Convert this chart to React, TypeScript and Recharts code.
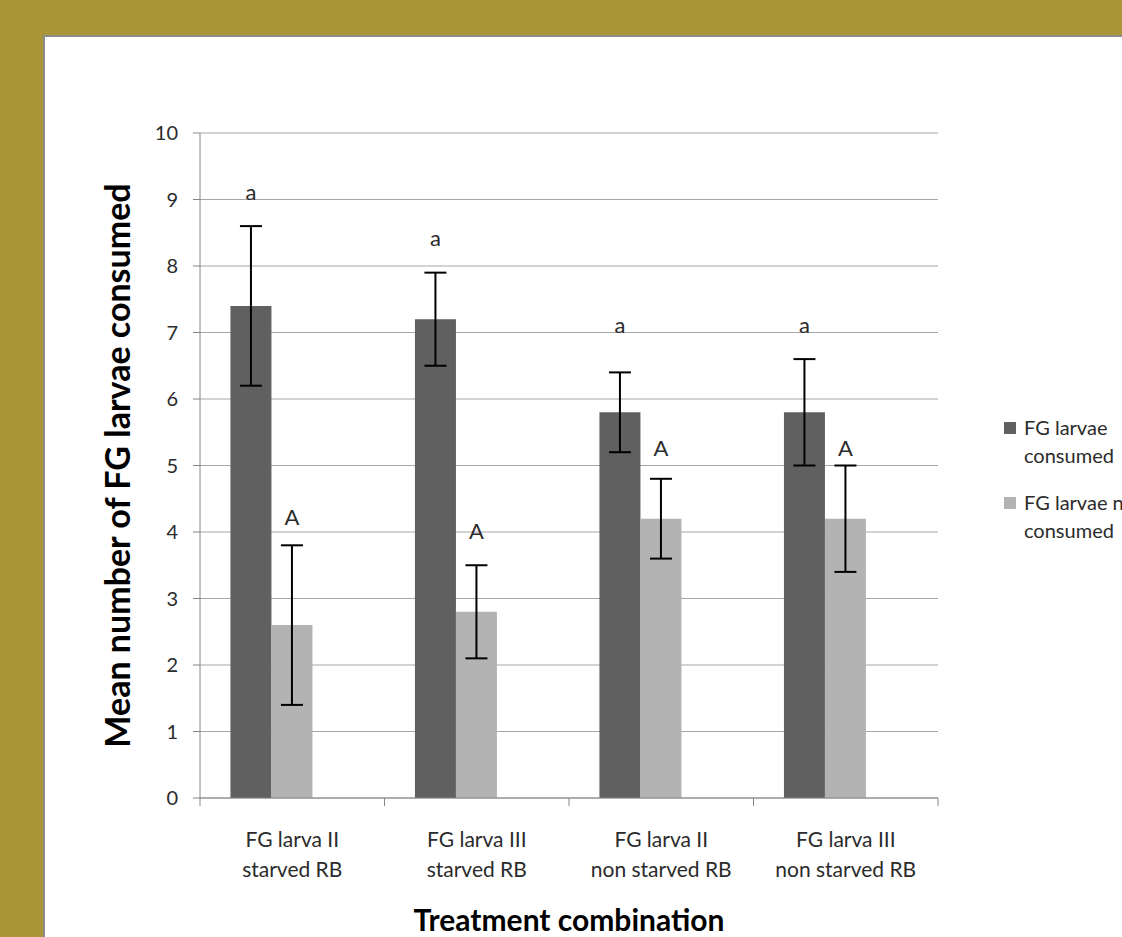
import { Bar, BarChart, CartesianGrid, ErrorBar, LabelList, Legend, XAxis, YAxis } from "recharts"

const categories = [
  "FG larva II\nstarved RB",
  "FG larva III\nstarved RB",
  "FG larva II\nnon starved RB",
  "FG larva III\nnon starved RB",
]
const consumed = [7.4, 7.2, 5.8, 5.8]
const consumedErr = [1.2, 0.7, 0.6, 0.8]
const notConsumed = [2.6, 2.8, 4.2, 4.2]
const notConsumedErr = [1.2, 0.7, 0.6, 0.8]

// significance letters and the value their baseline sits on
const consumedLetters = ["a", "a", "a", "a"]
const consumedLetterAt = [9.0, 8.3, 7.0, 7.0]
const notConsumedLetters = ["A", "A", "A", "A"]
const notConsumedLetterAt = [4.1, 3.9, 5.15, 5.15]

const yTicks = [0, 1, 2, 3, 4, 5, 6, 7, 8, 9, 10]

const FONT = "Lato, 'Open Sans', sans-serif"
const DARK = "#606060"
const LIGHT = "#b3b3b3"
const AXIS = "#868686"
const GRID = "#a6a6a6"
const TEXT = "#2b2b2b"

const data = categories.map((name, i) => ({
  name,
  consumed: consumed[i],
  consumedErr: consumedErr[i],
  notConsumed: notConsumed[i],
  notConsumedErr: notConsumedErr[i],
  blank: null,
}))

function CategoryTick(props: any) {
  const { x, y, payload, index } = props
  const [line1, line2] = String(payload.value).split("\n")
  const half = payload.offset || 738 / categories.length / 2
  return (
    <g>
      <line x1={x - half} y1={y} x2={x - half} y2={y + 8} stroke={AXIS} />
      {index === categories.length - 1 && <line x1={x + half} y1={y} x2={x + half} y2={y + 8} stroke={AXIS} />}
      <text x={x} y={y + 49} textAnchor="middle" fontFamily={FONT} fontSize={21} fill={TEXT}>
        {line1}
      </text>
      <text x={x} y={y + 79} textAnchor="middle" fontFamily={FONT} fontSize={21} fill={TEXT}>
        {line2}
      </text>
    </g>
  )
}

const letterLabel = (letters: string[], at: number[]) => (props: any) => {
  const vb = props.viewBox && props.viewBox.width !== undefined ? props.viewBox : props
  const { x, y, width, height } = vb
  const idx = props.index
  const perUnit = height / props.value
  const base = y + height
  return (
    <text
      x={x + width / 2}
      y={base - at[idx] * perUnit}
      textAnchor="middle"
      fontFamily={FONT}
      fontSize={22}
      fill={TEXT}
    >
      {letters[idx]}
    </text>
  )
}

function LegendContent(props: any) {
  const items = (props.payload || []).filter((p: any) => p.type !== "none")
  return (
    <div style={{ fontFamily: FONT, fontSize: 20, lineHeight: "28px", color: TEXT }}>
      {items.map((it: any) => (
        <div key={it.value} style={{ display: "flex", alignItems: "flex-start", marginBottom: 19 }}>
          <span style={{ width: 12, height: 12, background: it.color, marginTop: 9, marginRight: 8, flex: "none" }} />
          <span style={{ width: 132, whiteSpace: "normal" }}>{it.value}</span>
        </div>
      ))}
    </div>
  )
}

export default function App() {
  return (
    <div
      style={{
        position: "absolute",
        left: 0,
        top: 0,
        width: 1122,
        height: 937,
        overflow: "hidden",
        background: "#aa9537",
      }}
    >
      <div
        style={{
          position: "absolute",
          left: 43,
          top: 35,
          width: 1200,
          height: 1000,
          background: "#ffffff",
          border: "2px solid #8c8c8c",
        }}
      />
      <div style={{ position: "absolute", left: 0, top: 0 }}>
        <BarChart
          width={1122}
          height={937}
          data={data}
          margin={{ top: 133, right: 184, bottom: 39, left: 140 }}
          barCategoryGap="16.5%"
          barGap={0}
        >
          <CartesianGrid vertical={false} stroke={GRID} />
          <XAxis
            dataKey="name"
            height={100}
            stroke={AXIS}
            tickLine={false}
            tickSize={0}
            tickMargin={0}
            interval={0}
            tick={<CategoryTick />}
            label={(p: any) => {
              const vb = p.viewBox
              return (
                <text
                  x={vb.x + vb.width / 2}
                  y={vb.y + 133}
                  textAnchor="middle"
                  fontFamily={FONT}
                  fontSize={30}
                  fontWeight={700}
                  fill="#000"
                >
                  Treatment combination
                </text>
              )
            }}
          />
          <YAxis
            width={60}
            domain={[0, 10]}
            ticks={yTicks}
            interval={0}
            stroke={AXIS}
            tickSize={7}
            tickMargin={15}
            tick={{ fontFamily: FONT, fontSize: 20, fill: TEXT }}
            label={(p: any) => {
              const vb = p.viewBox
              const cx = vb.x - 10
              const cy = vb.y + vb.height / 2
              return (
                <text
                  x={cx}
                  y={cy}
                  transform={`rotate(-90 ${cx} ${cy})`}
                  textAnchor="middle"
                  fontFamily={FONT}
                  fontSize={34}
                  fontWeight={700}
                  fill="#000"
                >
                  Mean number of FG larvae consumed
                </text>
              )
            }}
          />
          <Legend
            layout="vertical"
            align="center"
            verticalAlign="middle"
            wrapperStyle={{ left: 1004, top: 413, width: 200 }}
            content={<LegendContent />}
          />
          <Bar dataKey="consumed" name="FG larvae consumed" fill={DARK} isAnimationActive={false}>
            <ErrorBar dataKey="consumedErr" width={11} strokeWidth={2} stroke="#000" />
            <LabelList dataKey="consumed" content={letterLabel(consumedLetters, consumedLetterAt)} />
          </Bar>
          <Bar dataKey="notConsumed" name="FG larvae not consumed" fill={LIGHT} isAnimationActive={false}>
            <ErrorBar dataKey="notConsumedErr" width={11} strokeWidth={2} stroke="#000" />
            <LabelList dataKey="notConsumed" content={letterLabel(notConsumedLetters, notConsumedLetterAt)} />
          </Bar>
          <Bar dataKey="blank" legendType="none" fill="none" isAnimationActive={false} />
        </BarChart>
      </div>
    </div>
  )
}
